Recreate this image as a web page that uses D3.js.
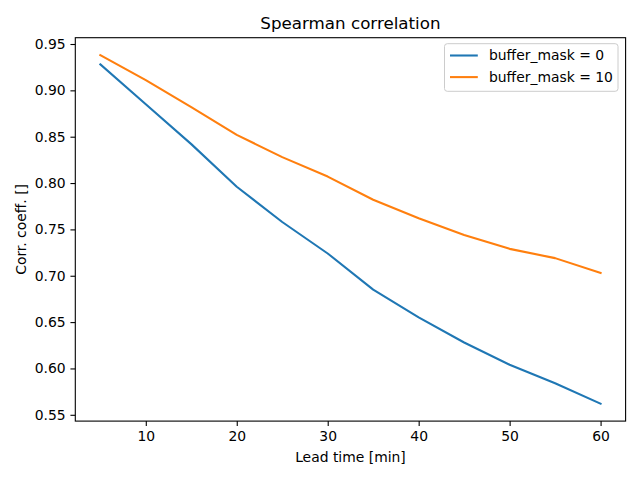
<!DOCTYPE html>
<html>
<head>
<meta charset="utf-8">
<script src="https://cdn.jsdelivr.net/npm/d3@7"></script>
<style>
  html, body { margin: 0; padding: 0; background: #fff; }
  svg { display: block; }
  text { font-family: "DejaVu Sans", sans-serif; fill: #000; }
</style>
</head>
<body>
<svg id="chart" width="640" height="480"></svg>
<script>
const leadTimes = [5, 10, 15, 20, 25, 30, 35, 40, 45, 50, 55, 60];
const buffer0 = [0.928, 0.885, 0.842, 0.796, 0.758, 0.724, 0.685, 0.655, 0.628, 0.604, 0.584, 0.562];
const buffer10 = [0.938, 0.911, 0.882, 0.852, 0.828, 0.807, 0.782, 0.762, 0.744, 0.729, 0.719, 0.703];
const seriesNames = ["buffer_mask = 0", "buffer_mask = 10"];
const seriesColors = ["#1f77b4", "#ff7f0e"];
const xTicks = [10, 20, 30, 40, 50, 60];
const yTicks = [0.55, 0.60, 0.65, 0.70, 0.75, 0.80, 0.85, 0.90, 0.95];

const series = [buffer0, buffer10];

const svg = d3.select("#chart");
const L = 75.3, R = 625.6, T = 37.7, B = 421.1;

const xmin = d3.min(leadTimes), xmax = d3.max(leadTimes);
const xm = (xmax - xmin) * 0.05;
const allY = buffer0.concat(buffer10);
const ymin = d3.min(allY), ymax = d3.max(allY);
const ym = (ymax - ymin) * 0.05;

const x = d3.scaleLinear().domain([xmin - xm, xmax + xm]).range([L, R]);
const y = d3.scaleLinear().domain([ymin - ym, ymax + ym]).range([B, T]);

const fs = 13.9;
const tickLen = 4.86;

// Lines
const line = d3.line().x((d, i) => x(leadTimes[i])).y(d => y(d));
series.forEach((s, k) => {
  svg.append("path")
    .datum(s)
    .attr("d", line)
    .attr("fill", "none")
    .attr("stroke", seriesColors[k])
    .attr("stroke-width", 2.08)
    .attr("stroke-linejoin", "round")
    .attr("stroke-linecap", "square");
});

// Axes
const xAxis = d3.axisBottom(x).tickValues(xTicks).tickFormat(d3.format("d"))
  .tickSizeInner(tickLen).tickSizeOuter(0).tickPadding(4.86);
const yAxis = d3.axisLeft(y).tickValues(yTicks).tickFormat(d3.format(".2f"))
  .tickSizeInner(tickLen).tickSizeOuter(0).tickPadding(4.86);

const gx = svg.append("g").attr("transform", `translate(0,${B})`).call(xAxis);
const gy = svg.append("g").attr("transform", `translate(${L},0)`).call(yAxis);
[gx, gy].forEach(g => {
  g.select(".domain").remove();
  g.selectAll(".tick line").attr("stroke", "#000").attr("stroke-width", 1.1);
  g.selectAll(".tick text").attr("font-family", "DejaVu Sans").attr("font-size", fs).attr("fill", "#000");
});

// Frame
svg.append("rect")
  .attr("x", L).attr("y", T).attr("width", R - L).attr("height", B - T)
  .attr("fill", "none").attr("stroke", "#000").attr("stroke-width", 1.1);

// Title
svg.append("text")
  .attr("x", (L + R) / 2).attr("y", T - 8.6)
  .attr("text-anchor", "middle").attr("font-size", 16.7)
  .text("Spearman correlation");

// X label
svg.append("text")
  .attr("x", (L + R) / 2).attr("y", 462)
  .attr("text-anchor", "middle").attr("font-size", fs)
  .text("Lead time [min]");

// Y label
svg.append("text")
  .attr("transform", `translate(25.5,${(T + B) / 2}) rotate(-90)`)
  .attr("text-anchor", "middle").attr("font-size", fs)
  .text("Corr. coeff. []");

// Legend
const lg = svg.append("g");
const lgX = 444.5, lgY = 43.7, lgW = 173.5, lgH = 47.6;
lg.append("rect")
  .attr("x", lgX).attr("y", lgY).attr("width", lgW).attr("height", lgH)
  .attr("rx", 2.8).attr("ry", 2.8)
  .attr("fill", "#fff").attr("fill-opacity", 0.8)
  .attr("stroke", "#cccccc").attr("stroke-width", 1);
seriesNames.forEach((name, k) => {
  const cy = 55.5 + k * 21.6;
  lg.append("line")
    .attr("x1", 450).attr("x2", 477.8).attr("y1", cy).attr("y2", cy)
    .attr("stroke", seriesColors[k]).attr("stroke-width", 2.08);
  lg.append("text")
    .attr("x", 489).attr("y", cy + 4.9)
    .attr("font-size", fs)
    .text(name);
});
</script>
</body>
</html>
